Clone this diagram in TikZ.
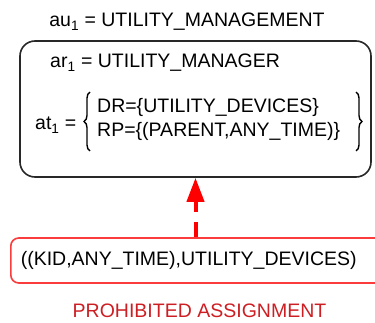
\documentclass[tikz,border=0pt]{standalone}
\usepackage{fontspec}
\setmainfont{Liberation Sans}
\usetikzlibrary{arrows.meta,positioning,calc,decorations.pathreplacing}
\definecolor{boxgray}{RGB}{40,40,40}
\definecolor{arrowred}{RGB}{255,0,0}
\definecolor{boxred}{RGB}{250,60,60}
\definecolor{labelred}{RGB}{205,30,35}

\begin{document}
\begin{tikzpicture}[
    x=1pt, y=-1pt,
    txt/.style={font=\fontsize{19.5}{23}\selectfont, inner sep=0pt, text=black},
    rolebox/.style={draw=boxgray, line width=1.6pt, rounded corners=15pt, minimum width=351pt, minimum height=136pt},
    kidbox/.style={draw=boxred, line width=1.6pt, rounded corners=8pt, minimum height=45pt, text width=380pt, align=left, inner xsep=10pt},
    bracket/.style={decorate, decoration={brace, amplitude=6pt}, line width=1.4pt, draw=black},
    arrow/.style={-{Triangle[length=24pt,width=17pt]}, line width=4pt, arrowred, dash pattern=on 15pt off 10pt}
]
    \useasboundingbox (0,0) rectangle (375,323);
    \clip (0,0) rectangle (375,323);

    % User
    \node[txt, anchor=base] (title) at (187,27) {au\textsubscript{1} = UTILITY\_MANAGEMENT};

    % Role with its task
    \node[rolebox] (role) at (195.5,109) {};
    \node[txt, anchor=base west] (rolename) at (50,68) {ar\textsubscript{1} = UTILITY\_MANAGER};
    \node[txt, anchor=base west] (taskname) at (35,130) {at\textsubscript{1} =};
    \node[txt, anchor=base west] (drline) at (97,113) {DR=\{UTILITY\_DEVICES\}};
    \node[txt, anchor=base west] (rpline) at (97,137) {RP=\{(PARENT,ANY\_TIME)\}};
    \draw[bracket] (90,151) -- (90,92);
    \draw[bracket] (356,92) -- (356,151);

    % Assignment
    \node[kidbox, anchor=west] (kid) at (10,260.5) {\fontsize{19.5}{23}\selectfont ((KID,ANY\_TIME),UTILITY\_DEVICES)};
    \node[txt, anchor=base, text=labelred] (prohib) at (199.5,317) {PROHIBITED ASSIGNMENT};

    \draw[arrow] (role.south |- kid.north) -- (role.south);
\end{tikzpicture}
\end{document}
